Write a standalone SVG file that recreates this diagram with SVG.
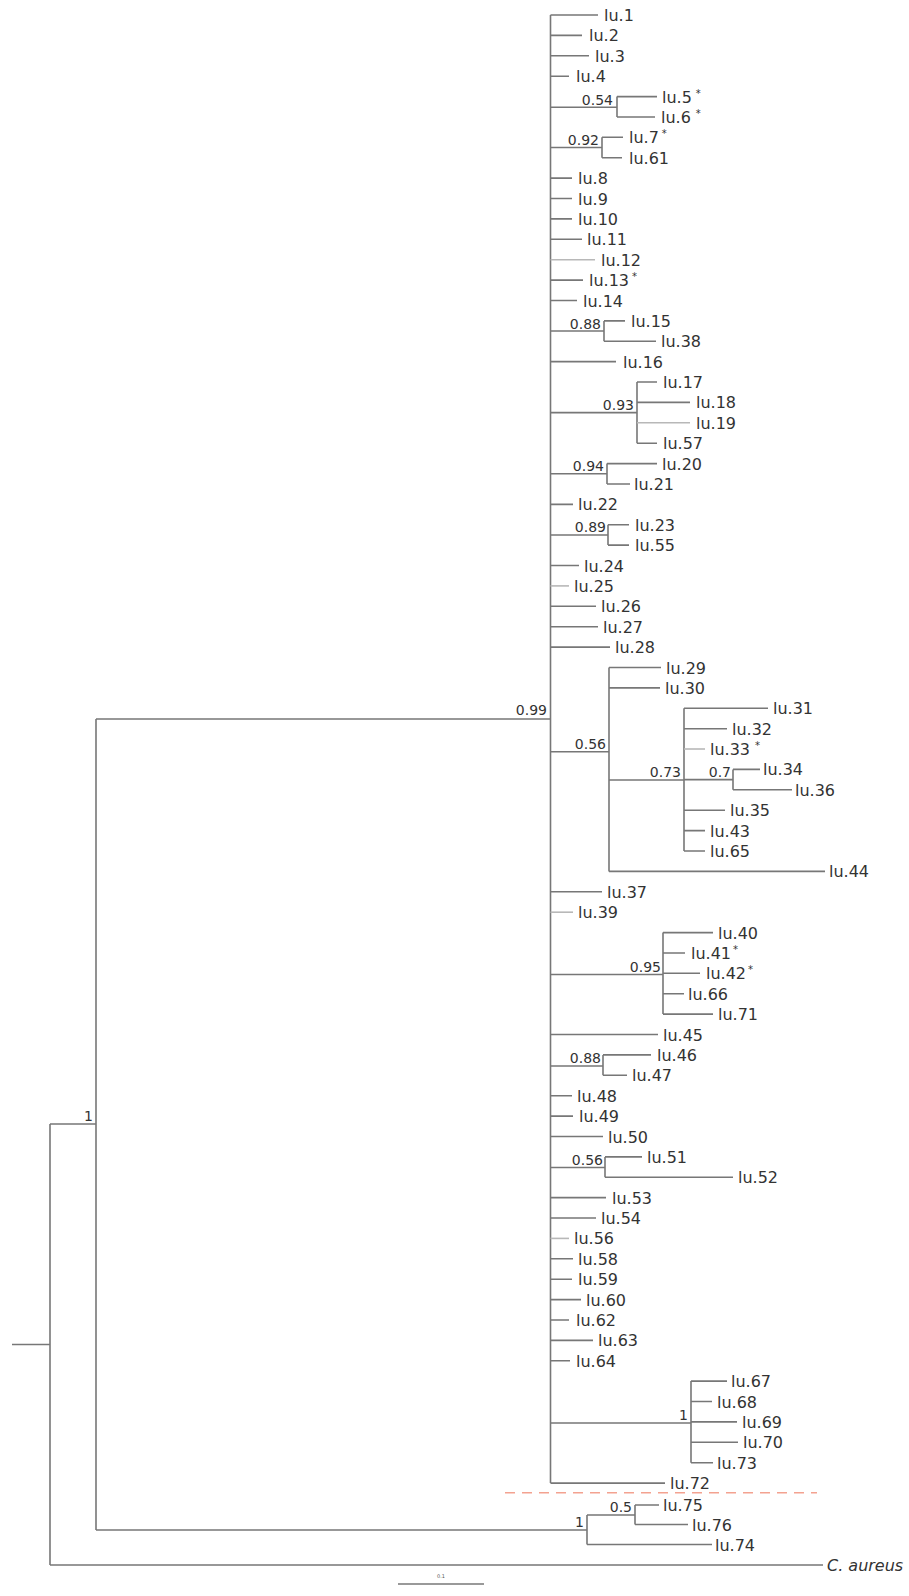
<svg xmlns="http://www.w3.org/2000/svg" width="909" height="1596" viewBox="0 0 909 1596">
<style>
.br{fill:none;stroke:#777777;stroke-width:1.6}
.lt{fill:none;stroke:#b8b8b8;stroke-width:1.6}
.lf{font-family:"DejaVu Sans",sans-serif;font-size:16px;fill:#333333}
.sp{font-family:"DejaVu Sans",sans-serif;font-size:14px;fill:#333333;text-anchor:end}
.st{font-size:10px}
.it{font-style:italic}
.cut{stroke:#f3a290;stroke-width:1.6;stroke-dasharray:10 7;fill:none}
</style>
<rect width="909" height="1596" fill="#ffffff"/>
<g id="connectors">
<path class="br" d="M12 1344.5H50M50 1124V1565M50 1124H96M96 719V1530M96 719H550.5M550.5 15V1483.1M50 1565H823"/>
<path class="br" d="M550.5 15H598M550.5 35.4H582M550.5 55.8H589M550.5 76.2H569"/>
<path class="br" d="M550.5 107.3H617M617 96.6V117M617 96.6H657M617 117H655"/>
<path class="br" d="M550.5 147.5H602M602 137.3V157.7M602 137.3H623M602 157.7H622"/>
<path class="br" d="M550.5 178.1H572M550.5 198.5H572M550.5 218.9H572M550.5 239.3H582M550.5 280.1H583M550.5 300.5H577"/>
<path class="lt" d="M550.5 259.7H595"/>
<path class="br" d="M550.5 331H604M604 320.9V341.2M604 320.9H625M604 341.2H656M550.5 361.6H616"/>
<path class="br" d="M550.5 412.6H637M637 382V443.2M637 382H657M637 402.4H690M637 443.2H657"/>
<path class="lt" d="M637 422.8H690"/>
<path class="br" d="M550.5 473.8H607M607 463.6V484M607 463.6H657M607 484H630M550.5 504.4H573"/>
<path class="br" d="M550.5 535H608M608 524.8V545.1M608 524.8H629M608 545.1H629M550.5 565.5H579M550.5 606.3H596M550.5 626.7H598M550.5 647.1H610"/>
<path class="lt" d="M550.5 585.9H569"/>
<path class="br" d="M550.5 751.7H609M609 667.5V871.4M609 667.5H661M609 687.9H660M609 871.4H825"/>
<path class="br" d="M609 780H684M684 708.3V851M684 708.3H768M684 728.7H727M684 810.2H725M684 830.6H705M684 851H705"/>
<path class="lt" d="M684 749H705"/>
<path class="br" d="M684 779.6H733M733 769.4V789.8M733 769.4H760M733 789.8H792"/>
<path class="br" d="M550.5 891.8H602"/>
<path class="lt" d="M550.5 912.2H573"/>
<path class="br" d="M550.5 974.5H663M663 932.6V1014.1M663 932.6H713M663 953H685M663 973.3H700M663 993.7H684M663 1014.1H713M550.5 1034.5H658"/>
<path class="br" d="M550.5 1066H603M603 1054.9V1075.3M603 1054.9H651M603 1075.3H627M550.5 1095.7H572M550.5 1116.1H573M550.5 1136.5H603"/>
<path class="br" d="M550.5 1167.5H605M605 1156.9V1177.2M605 1156.9H642M605 1177.2H733M550.5 1197.6H606M550.5 1218H596"/>
<path class="lt" d="M550.5 1238.4H569"/>
<path class="br" d="M550.5 1258.8H573M550.5 1279.2H572M550.5 1299.6H581M550.5 1320H569M550.5 1340.4H593M550.5 1360.8H570"/>
<path class="br" d="M550.5 1423H691M691 1381.1V1462.7M691 1381.1H727M691 1401.5H712M691 1421.9H737M691 1442.3H738M691 1462.7H713M550.5 1483.1H665"/>
<path class="br" d="M96 1530H587M587 1515V1544.5M587 1544.5H712M587 1515H635M635 1505V1524.5M635 1505H659M635 1524.5H688"/>
<path class="cut" d="M505 1492.7H817"/>
<path class="br" d="M398 1584H484"/>
</g>
<g id="supports">
<text class="sp" x="93" y="1121">1</text>
<text class="sp" x="547" y="715">0.99</text>
<text class="sp" x="613" y="105">0.54</text>
<text class="sp" x="599" y="145">0.92</text>
<text class="sp" x="601" y="329">0.88</text>
<text class="sp" x="634" y="410">0.93</text>
<text class="sp" x="604" y="471">0.94</text>
<text class="sp" x="606" y="532">0.89</text>
<text class="sp" x="606" y="749">0.56</text>
<text class="sp" x="681" y="777">0.73</text>
<text class="sp" x="731" y="777">0.7</text>
<text class="sp" x="661" y="972">0.95</text>
<text class="sp" x="601" y="1063">0.88</text>
<text class="sp" x="603" y="1165">0.56</text>
<text class="sp" x="688" y="1420">1</text>
<text class="sp" x="584" y="1527">1</text>
<text class="sp" x="632" y="1512">0.5</text>
</g>
<g id="lu1"><text class="lf" x="604" y="21">lu.1</text></g>
<g id="lu2"><text class="lf" x="589" y="41.4">lu.2</text></g>
<g id="lu3"><text class="lf" x="595" y="61.8">lu.3</text></g>
<g id="lu4"><text class="lf" x="576" y="82.2">lu.4</text></g>
<g id="lu5"><text class="lf" x="662" y="102.6">lu.5<tspan class="st" dx="4" dy="-6">*</tspan></text></g>
<g id="lu6"><text class="lf" x="661" y="123">lu.6<tspan class="st" dx="5" dy="-6">*</tspan></text></g>
<g id="lu7"><text class="lf" x="629" y="143.3">lu.7<tspan class="st" dx="3" dy="-6">*</tspan></text></g>
<g id="lu61"><text class="lf" x="629" y="163.7">lu.61</text></g>
<g id="lu8"><text class="lf" x="578" y="184.1">lu.8</text></g>
<g id="lu9"><text class="lf" x="578" y="204.5">lu.9</text></g>
<g id="lu10"><text class="lf" x="578" y="224.9">lu.10</text></g>
<g id="lu11"><text class="lf" x="587" y="245.3">lu.11</text></g>
<g id="lu12"><text class="lf" x="601" y="265.7">lu.12</text></g>
<g id="lu13"><text class="lf" x="589" y="286.1">lu.13<tspan class="st" dx="3" dy="-6">*</tspan></text></g>
<g id="lu14"><text class="lf" x="583" y="306.5">lu.14</text></g>
<g id="lu15"><text class="lf" x="631" y="326.9">lu.15</text></g>
<g id="lu38"><text class="lf" x="661" y="347.2">lu.38</text></g>
<g id="lu16"><text class="lf" x="623" y="367.6">lu.16</text></g>
<g id="lu17"><text class="lf" x="663" y="388">lu.17</text></g>
<g id="lu18"><text class="lf" x="696" y="408.4">lu.18</text></g>
<g id="lu19"><text class="lf" x="696" y="428.8">lu.19</text></g>
<g id="lu57"><text class="lf" x="663" y="449.2">lu.57</text></g>
<g id="lu20"><text class="lf" x="662" y="469.6">lu.20</text></g>
<g id="lu21"><text class="lf" x="634" y="490">lu.21</text></g>
<g id="lu22"><text class="lf" x="578" y="510.4">lu.22</text></g>
<g id="lu23"><text class="lf" x="635" y="530.8">lu.23</text></g>
<g id="lu55"><text class="lf" x="635" y="551.1">lu.55</text></g>
<g id="lu24"><text class="lf" x="584" y="571.5">lu.24</text></g>
<g id="lu25"><text class="lf" x="574" y="591.9">lu.25</text></g>
<g id="lu26"><text class="lf" x="601" y="612.3">lu.26</text></g>
<g id="lu27"><text class="lf" x="603" y="632.7">lu.27</text></g>
<g id="lu28"><text class="lf" x="615" y="653.1">lu.28</text></g>
<g id="lu29"><text class="lf" x="666" y="673.5">lu.29</text></g>
<g id="lu30"><text class="lf" x="665" y="693.9">lu.30</text></g>
<g id="lu31"><text class="lf" x="773" y="714.3">lu.31</text></g>
<g id="lu32"><text class="lf" x="732" y="734.7">lu.32</text></g>
<g id="lu33"><text class="lf" x="710" y="755">lu.33<tspan class="st" dx="5" dy="-6">*</tspan></text></g>
<g id="lu34"><text class="lf" x="763" y="775.4">lu.34</text></g>
<g id="lu36"><text class="lf" x="795" y="795.8">lu.36</text></g>
<g id="lu35"><text class="lf" x="730" y="816.2">lu.35</text></g>
<g id="lu43"><text class="lf" x="710" y="836.6">lu.43</text></g>
<g id="lu65"><text class="lf" x="710" y="857">lu.65</text></g>
<g id="lu44"><text class="lf" x="829" y="877.4">lu.44</text></g>
<g id="lu37"><text class="lf" x="607" y="897.8">lu.37</text></g>
<g id="lu39"><text class="lf" x="578" y="918.2">lu.39</text></g>
<g id="lu40"><text class="lf" x="718" y="938.6">lu.40</text></g>
<g id="lu41"><text class="lf" x="691" y="959">lu.41<tspan class="st" dx="2" dy="-6">*</tspan></text></g>
<g id="lu42"><text class="lf" x="706" y="979.3">lu.42<tspan class="st" dx="2" dy="-6">*</tspan></text></g>
<g id="lu66"><text class="lf" x="688" y="999.7">lu.66</text></g>
<g id="lu71"><text class="lf" x="718" y="1020.1">lu.71</text></g>
<g id="lu45"><text class="lf" x="663" y="1040.5">lu.45</text></g>
<g id="lu46"><text class="lf" x="657" y="1060.9">lu.46</text></g>
<g id="lu47"><text class="lf" x="632" y="1081.3">lu.47</text></g>
<g id="lu48"><text class="lf" x="577" y="1101.7">lu.48</text></g>
<g id="lu49"><text class="lf" x="579" y="1122.1">lu.49</text></g>
<g id="lu50"><text class="lf" x="608" y="1142.5">lu.50</text></g>
<g id="lu51"><text class="lf" x="647" y="1162.9">lu.51</text></g>
<g id="lu52"><text class="lf" x="738" y="1183.2">lu.52</text></g>
<g id="lu53"><text class="lf" x="612" y="1203.6">lu.53</text></g>
<g id="lu54"><text class="lf" x="601" y="1224">lu.54</text></g>
<g id="lu56"><text class="lf" x="574" y="1244.4">lu.56</text></g>
<g id="lu58"><text class="lf" x="578" y="1264.8">lu.58</text></g>
<g id="lu59"><text class="lf" x="578" y="1285.2">lu.59</text></g>
<g id="lu60"><text class="lf" x="586" y="1305.6">lu.60</text></g>
<g id="lu62"><text class="lf" x="576" y="1326">lu.62</text></g>
<g id="lu63"><text class="lf" x="598" y="1346.4">lu.63</text></g>
<g id="lu64"><text class="lf" x="576" y="1366.8">lu.64</text></g>
<g id="lu67"><text class="lf" x="731" y="1387.1">lu.67</text></g>
<g id="lu68"><text class="lf" x="717" y="1407.5">lu.68</text></g>
<g id="lu69"><text class="lf" x="742" y="1427.9">lu.69</text></g>
<g id="lu70"><text class="lf" x="743" y="1448.3">lu.70</text></g>
<g id="lu73"><text class="lf" x="717" y="1468.7">lu.73</text></g>
<g id="lu72"><text class="lf" x="670" y="1489.1">lu.72</text></g>
<g id="lu75"><text class="lf" x="663" y="1511">lu.75</text></g>
<g id="lu76"><text class="lf" x="692" y="1530.5">lu.76</text></g>
<g id="lu74"><text class="lf" x="715" y="1550.5">lu.74</text></g>
<g id="caureus"><text class="lf it" x="827" y="1571">C. aureus</text></g>
<g id="scale"><text x="441" y="1578" font-family="DejaVu Sans, sans-serif" font-size="5" fill="#555" text-anchor="middle">0.1</text></g>
</svg>
